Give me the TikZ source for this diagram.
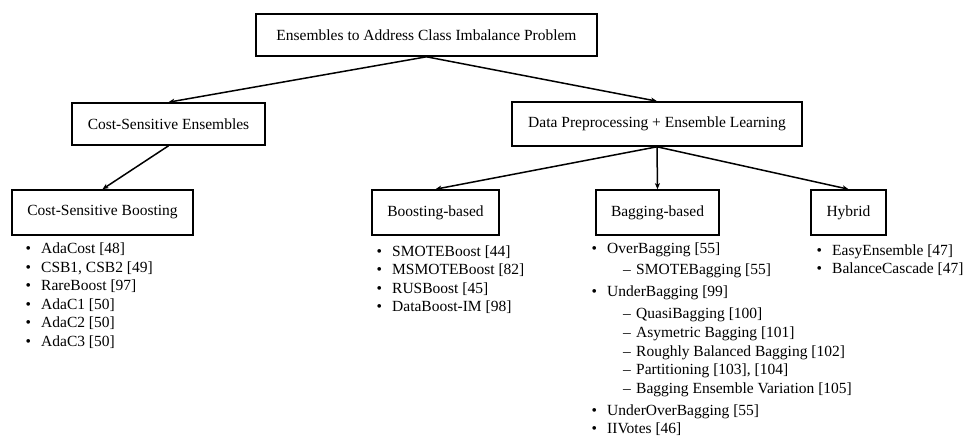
\documentclass[tikz,border=0pt]{standalone}
\usepackage{fontspec}
\setmainfont{Liberation Serif}
\usetikzlibrary{arrows.meta}
\newcommand\bul{\makebox[15.5pt][l]{\textbullet}}
\newcommand\sub{\hspace{31.5pt}\makebox[13pt][l]{–}}
\begin{document}
\begin{tikzpicture}[x=1pt,y=-1pt,
  box/.style={draw, line width=1.6pt, inner sep=0pt, align=center,
    font=\fontsize{15.5}{18.6}\selectfont},
  conn/.style={line width=1.5pt, -{Stealth[length=6pt,width=5pt,inset=1.5pt]}},
  lst/.style={inner sep=0pt, anchor=base west, font=\fontsize{15.5}{18.6}\selectfont}]
\useasboundingbox (0,0) rectangle (964,436);
\fill[white] (0,0) rectangle (964,436);
% boxes
\node[box, minimum width=341pt, minimum height=42pt] (root) at (426.5,35) {Ensembles to Address Class Imbalance Problem};
\node[box, minimum width=193pt, minimum height=42pt] (cse) at (168.5,124) {Cost-Sensitive Ensembles};
\node[box, minimum width=290pt, minimum height=44pt] (dp) at (657,124) {Data Preprocessing + Ensemble Learning};
\node[box, minimum width=181pt, minimum height=45pt] (csb) at (102.5,212.5) {Cost-Sensitive Boosting};
\node[box, minimum width=127pt, minimum height=45pt] (bb) at (435.5,212.5) {Boosting-based};
\node[box, minimum width=123pt, minimum height=45pt] (bag) at (657.5,212.5) {Bagging-based};
\node[box, minimum width=75pt, minimum height=45pt] (hyb) at (848.5,212.5) {Hybrid};
% connectors
\draw[conn] (root.south) -- (cse.north);
\draw[conn] (root.south) -- (dp.north);
\draw[conn] (cse.south) -- (csb.north);
\draw[conn] (dp.south) -- (bb.north);
\draw[conn] (dp.south) -- (bag.north);
\draw[conn] (dp.south) -- (hyb.north);
% lists
\node[lst] (csbl) at (25.5,253.5) {\begin{tabular}[t]{@{}l@{}}
\bul AdaCost [48]\\
\bul CSB1, CSB2 [49]\\
\bul RareBoost [97]\\
\bul AdaC1 [50]\\
\bul AdaC2 [50]\\
\bul AdaC3 [50]
\end{tabular}};
\node[lst] (bbl) at (376.5,256) {\begin{tabular}[t]{@{}l@{}}
\bul SMOTEBoost [44]\\
\bul MSMOTEBoost [82]\\
\bul RUSBoost [45]\\
\bul DataBoost-IM [98]
\end{tabular}};
\node[lst] (bagl) at (591.5,253.5) {\begin{tabular}[t]{@{}l@{}}
\bul OverBagging [55]\\[2.5pt]
\sub SMOTEBagging [55]\\[3.5pt]
\bul UnderBagging [99]\\[3.5pt]
\sub QuasiBagging [100]\\
\sub Asymetric Bagging [101]\\
\sub Roughly Balanced Bagging [102]\\
\sub Partitioning [103], [104]\\
\sub Bagging Ensemble Variation [105]\\[3.5pt]
\bul UnderOverBagging [55]\\
\bul IIVotes [46]
\end{tabular}};
\node[lst] (hybl) at (816.5,255) {\begin{tabular}[t]{@{}l@{}}
\bul EasyEnsemble [47]\\
\bul BalanceCascade [47]
\end{tabular}};
\end{tikzpicture}
\end{document}
